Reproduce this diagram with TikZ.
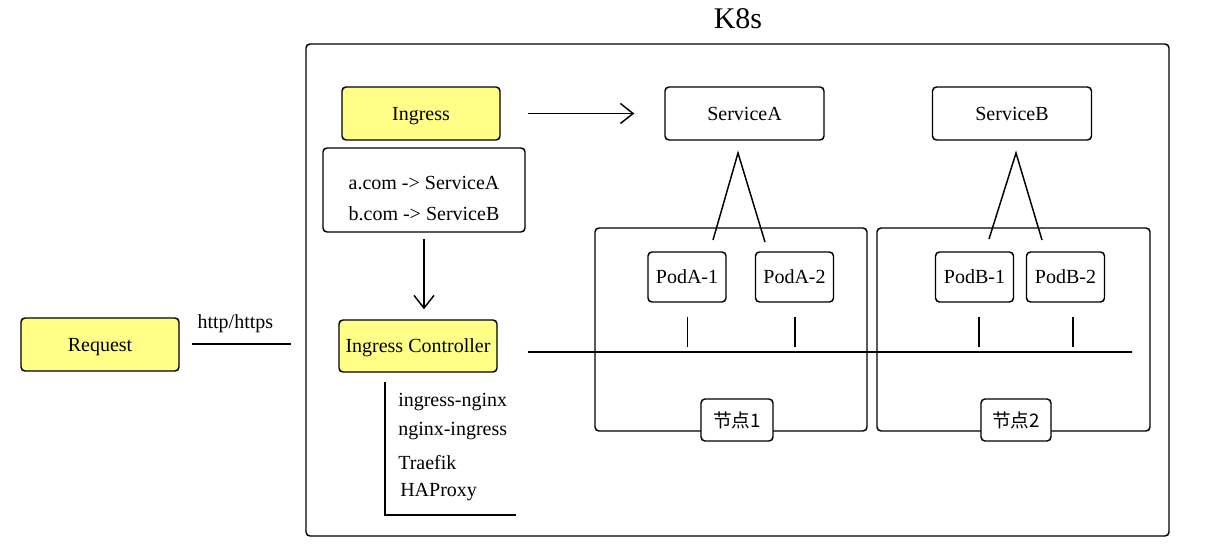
\documentclass[tikz,border=0pt]{standalone}
\usepackage{fontspec}
\setmainfont{Liberation Serif}
\newfontfamily\cjk{Noto Sans CJK SC}
\usetikzlibrary{arrows.meta}
\definecolor{hl}{RGB}{255,255,136}
\tikzset{
  box/.style={draw, line width=1.1pt, rounded corners=3pt, align=center, inner sep=0pt, text depth=0pt, font=\fontsize{15}{23}\selectfont},
  hlbox/.style={box, fill=hl},
  frame/.style={draw, line width=1.1pt, rounded corners=3pt, inner sep=0pt},
  ln/.style={line width=1.1pt},
  arr/.style={line width=1.1pt, -{Straight Barb[length=9.5pt,width=15pt,line width=1.1pt]}},
  txt/.style={font=\fontsize{15}{18}\selectfont, inner sep=0pt, anchor=west},
}
\begin{document}
\begin{tikzpicture}[x=0.75pt,y=-0.75pt]
\useasboundingbox (0,0) rectangle (1210,546);
% title and outer box
\node[font=\fontsize{22.5}{26}\selectfont] (title) at (738,19) {K8s};
\node[frame, minimum width=647.25pt, minimum height=369pt] (k8s) at (737.5,290) {};
% node frames
\node[frame, minimum width=204pt, minimum height=152.25pt] (n1) at (731,329.5) {};
\node[frame, minimum width=204.75pt, minimum height=152.25pt] (n2) at (1013.5,329.5) {};
% boxes
\node[hlbox, minimum width=118.5pt, minimum height=39.75pt] (ingress) at (421,113.5) {Ingress};
\node[box, minimum width=151.5pt, minimum height=63pt] (rules) at (424,190) {\rule{0pt}{22pt}a.com -> ServiceA\\b.com -> ServiceB};
\node[box, minimum width=119.25pt, minimum height=39.75pt] (svcA) at (744.5,113.5) {ServiceA};
\node[box, minimum width=119.25pt, minimum height=39.75pt] (svcB) at (1012,113.5) {ServiceB};
\node[box, minimum width=58.5pt, minimum height=37.5pt] (pa1) at (687,277) {PodA-1};
\node[box, minimum width=58.5pt, minimum height=37.5pt] (pa2) at (794.5,277) {PodA-2};
\node[box, minimum width=58.5pt, minimum height=37.5pt] (pb1) at (974.5,277) {PodB-1};
\node[box, minimum width=58.5pt, minimum height=37.5pt] (pb2) at (1065.5,277) {PodB-2};
\node[box, fill=white, minimum width=54pt, minimum height=31.5pt, font=\cjk\fontsize{14}{16}\selectfont] (l1) at (737,420) {节点1};
\node[box, fill=white, minimum width=52.5pt, minimum height=31.5pt, font=\cjk\fontsize{14}{16}\selectfont] (l2) at (1016,420) {节点2};
\node[hlbox, minimum width=118.5pt, minimum height=39.75pt] (req) at (100,344.5) {Request};
\node[hlbox, minimum width=118.5pt, minimum height=39pt] (ic) at (418,346) {Ingress Controller};
% list
\node[txt] (t1) at (398,402) {ingress-nginx};
\node[txt] (t2) at (398,431) {nginx-ingress};
\node[txt] (t3) at (398,463) {Traefik};
\node[txt] (t4) at (400,492) {HAProxy};
% coordinates
\coordinate (httpEnd) at (291,344);
\coordinate (apA) at (738,153);
\coordinate (a1) at (713,240);
\coordinate (a2) at (765,242);
\coordinate (apB) at (1016,153);
\coordinate (b1) at (989,239);
\coordinate (b2) at (1042,240);
\coordinate (busEnd) at (1132,352);
\coordinate (brTop) at (385,382);
\coordinate (brCorner) at (385,515);
\coordinate (brEnd) at (516,515);
% connectors
\draw[arr, shorten <=20.25pt, shorten >=22.5pt] (ingress.east) -- (ingress.east -| svcA.west);
\draw[arr, shorten <=4.5pt, shorten >=7.5pt] (rules.south) -- (rules.south |- ic.north);
\draw[ln, shorten <=9pt] (req.east |- httpEnd) -- node[above=8pt, font=\fontsize{15}{16}\selectfont, inner sep=0pt] (http) {http/https} (httpEnd);
\draw[ln] (a1) -- (apA) -- (a2);
\draw[ln] (b1) -- (apB) -- (b2);
\draw[ln, shorten <=22.5pt] (ic.east |- busEnd) -- (busEnd);
\draw[ln] (pa1.south) ++(0.5,14) coordinate (va1) -- ++(0,30);
\draw[ln] (pa2.south) ++(0.5,14) coordinate (va2) -- ++(0,30);
\draw[ln] (pb1.south) ++(4.5,14) coordinate (vb1) -- ++(0,30);
\draw[ln] (pb2.south) ++(7.5,14) coordinate (vb2) -- ++(0,30);
\draw[ln] (brTop) -- (brCorner) -- (brEnd);
\end{tikzpicture}
\end{document}
